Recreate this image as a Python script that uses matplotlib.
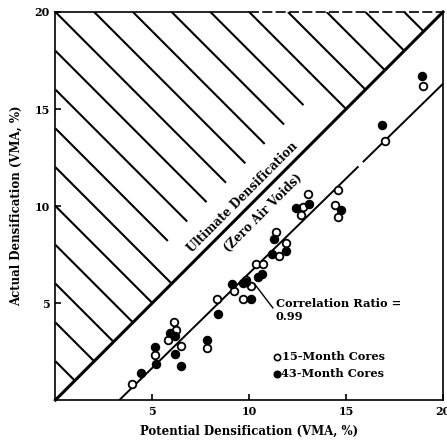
import numpy as np
import matplotlib
matplotlib.use("Agg")
import matplotlib.pyplot as plt

plt.rcParams["font.family"] = "DejaVu Serif"
plt.rcParams["font.weight"] = "bold"
plt.rcParams["axes.labelweight"] = "bold"

# 15-month cores (open circles)
x15 = [3.96, 5.16, 5.81, 6.14, 6.24, 6.48, 7.81, 8.32, 9.23, 9.66, 9.86, 10.09, 10.34,
       10.73, 11.37, 11.54, 11.88, 12.68, 12.77, 13.03, 14.43, 14.56, 14.56, 17.0, 18.97]
y15 = [0.84, 2.30, 3.08, 4.00, 3.62, 2.76, 2.70, 5.20, 5.60, 5.20, 6.18, 5.89, 7.01,
       7.01, 8.65, 7.44, 8.08, 9.54, 9.94, 10.63, 10.03, 10.80, 9.42, 13.33, 16.18]

# 43-month cores (filled circles)
x43 = [4.44, 5.16, 5.20, 5.93, 6.19, 6.15, 6.48, 7.81, 8.38, 9.13, 9.70, 9.86, 10.09,
       10.43, 10.68, 11.18, 11.28, 11.91, 12.43, 13.11, 14.74, 16.87, 18.93]
y43 = [1.41, 2.74, 1.88, 3.48, 3.30, 2.36, 1.76, 3.08, 4.43, 5.98, 6.01, 6.06, 5.20,
       6.32, 6.50, 7.53, 8.30, 7.70, 9.89, 10.11, 9.80, 14.16, 16.69]

# fitted line (with the small break near x = 15.7)
reg_x = [3.3, 20.0]
reg_y = [0.0, 16.3]
reg_gap = [15.6, 15.9]

ticks = [5, 10, 15, 20]
hatch_c = list(range(2, 40, 2))   # hatch lines x + y = c

fig = plt.figure(figsize=(4.47, 4.44), dpi=100)
ax = fig.add_axes([0.124, 0.099, 0.867, 0.874])
ax.set_xlim(0, 20)
ax.set_ylim(0, 20)

# hatching above the zero-air-voids line
for c in hatch_c:
    if c <= 20:
        x0, y0 = 0, c
    else:
        x0, y0 = c - 20, 20
    # lines near the label stop short of the diagonal
    x1 = (c - 2.4) / 2 if 14 <= c <= 28 else c / 2
    ax.plot([x0, x1], [y0, c - x1], color="k", lw=1.5, solid_capstyle="butt")

ax.plot([0, 20], [0, 20], color="k", lw=2.2, clip_on=False)

# regression line in two pieces
xa = [reg_x[0], reg_gap[0]]
xb = [reg_gap[1], reg_x[1]]
ax.plot(xa, np.interp(xa, reg_x, reg_y), color="k", lw=1.4)
ax.plot(xb, np.interp(xb, reg_x, reg_y), color="k", lw=1.4)

ax.plot(x15, y15, "o", ls="none", mfc="white", mec="k", ms=5.5, mew=1.3)
ax.plot(x43, y43, "o", ls="none", color="k", ms=5.8)

# labels inside the chart
ax.text(9.66, 10.45, "Ultimate Densification", rotation=45, ha="center", va="center",
        fontsize=8.5, rotation_mode="anchor")
ax.text(10.71, 9.62, "(Zero Air Voids)", rotation=45, ha="center", va="center",
        fontsize=8.5, rotation_mode="anchor")
ax.plot([10.3, 11.22], [5.95, 4.75], color="k", lw=1.0)
ax.text(11.38, 4.8, "Correlation Ratio =", fontsize=8.2, va="baseline")
ax.text(11.38, 4.15, "0.99", fontsize=8.2, va="baseline")

ax.plot(11.41, 2.2, "o", mfc="white", mec="k", ms=4.5, mew=1.2)
ax.text(11.7, 2.05, "15-Month Cores", fontsize=8.2, va="baseline")
ax.plot(11.43, 1.34, "o", color="k", ms=4.8)
ax.text(11.65, 1.17, "43-Month Cores", fontsize=8.2, va="baseline")

# frame: top edge is broken in the original
ax.spines["top"].set_visible(False)
ax.plot([0, 10], [20, 20], color="k", lw=1.2, clip_on=False)
ax.plot([10, 20], [20, 20], color="k", lw=1.2, ls=(0, (6, 2)), clip_on=False)
for s in ["left", "bottom", "right"]:
    ax.spines[s].set_linewidth(1.2)

ax.set_xticks(ticks)
ax.set_yticks(ticks)
ax.tick_params(direction="in", length=4, width=1.2, labelsize=8, pad=4)
ax.set_xlabel("Potential Densification (VMA, %)", fontsize=8.5, labelpad=6)
ax.set_ylabel("Actual Densification (VMA, %)", fontsize=8.5, labelpad=8)

fig.savefig("out.png", dpi=100)
